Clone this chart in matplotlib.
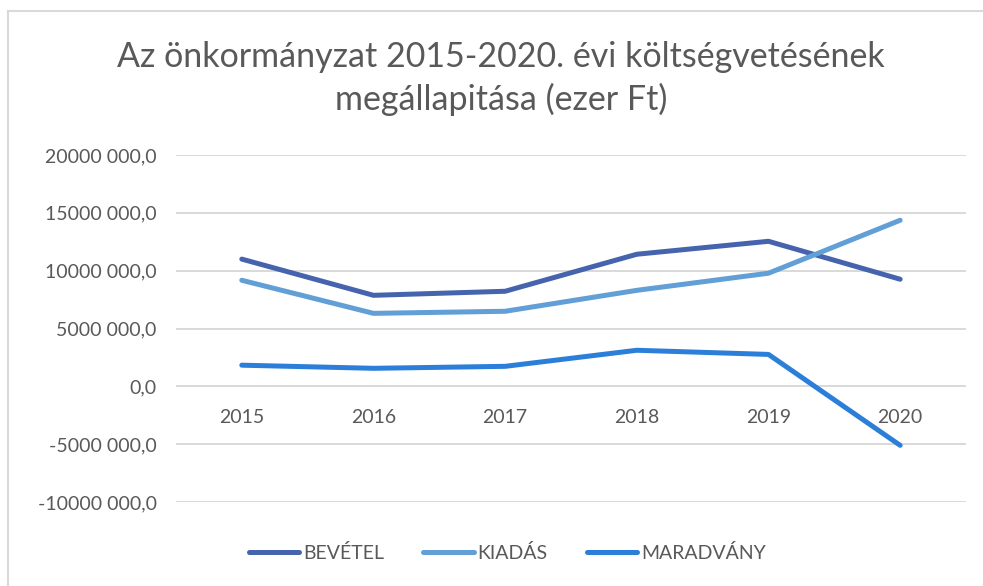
import matplotlib
matplotlib.use("Agg")
from matplotlib import pyplot as plt
from matplotlib.lines import Line2D
import matplotlib.transforms as mtransforms

plt.rcParams['font.family'] = ['Lato', 'DejaVu Sans']

# yearly budget (ezer Ft)
years = ['2015', '2016', '2017', '2018', '2019', '2020']
bevetel = [11000000, 7870000, 8220000, 11420000, 12540000, 9260000]
kiadas = [9170000, 6310000, 6490000, 8300000, 9780000, 14360000]
maradvany = [1830000, 1560000, 1730000, 3120000, 2760000, -5100000]

series_names = ['BEVÉTEL', 'KIADÁS', 'MARADVÁNY']
series_colors = ['#4664ad', '#619fd6', '#2b7fd8']

y_ticks = [-10000000, -5000000, 0, 5000000, 10000000, 15000000, 20000000]
y_labels = ['-10000 000,0', '-5000 000,0', '0,0', '5000 000,0',
            '10000 000,0', '15000 000,0', '20000 000,0']

text_col = '#595959'
grid_col = '#d9d9d9'

fig = plt.figure(figsize=(9.83, 5.86), dpi=100)
ax = fig.add_axes([0.179, 0.1433, 0.8037, 0.5922])

x = list(range(len(years)))
for vals, name, col in zip([bevetel, kiadas, maradvany], series_names, series_colors):
    ax.plot(x, vals, color=col, lw=3.6, solid_capstyle='round',
            solid_joinstyle='round', label=name, zorder=3)

ax.set_xlim(-0.5, len(years) - 0.5)
ax.set_ylim(y_ticks[0], y_ticks[-1])
ax.set_yticks(y_ticks)
ax.set_yticklabels(y_labels, fontsize=14, color=text_col)
ax.tick_params(axis='y', length=0, pad=14)
ax.set_xticks([])
ax.grid(axis='y', color=grid_col, lw=1.4, zorder=0)
for s in ax.spines.values():
    s.set_visible(False)

# category labels sit just under the zero line
off = mtransforms.offset_copy(ax.transData, fig=fig, x=0, y=-31, units='dots')
for i, yr in enumerate(years):
    ax.text(i, 0, yr, transform=off, ha='center', va='center',
            fontsize=14, color=text_col)

fig.text(0.51, 0.902, 'Az önkormányzat 2015-2020. évi költségvetésének',
         ha='center', va='center', fontsize=24.5, color=text_col)
fig.text(0.51, 0.83, 'megállapitása (ezer Ft)',
         ha='center', va='center', fontsize=24.5, color=text_col)

handles = [Line2D([], [], color=c, lw=3.6, solid_capstyle='round') for c in series_colors]
fig.legend(handles, series_names, loc='center', bbox_to_anchor=(0.516, 0.057),
           ncol=3, frameon=False, fontsize=14, labelcolor=text_col,
           handlelength=2.6, handletextpad=0.2, columnspacing=2.0)

# chart frame (left and top edges)
fig.add_artist(Line2D([0.0085, 0.0085], [0, 0.982], color='#d9d9d9', lw=1.5,
                      transform=fig.transFigure))
fig.add_artist(Line2D([0.0085, 1], [0.982, 0.982], color='#d9d9d9', lw=1.5,
                      transform=fig.transFigure))

fig.savefig('out.png', dpi=100, facecolor='white')
